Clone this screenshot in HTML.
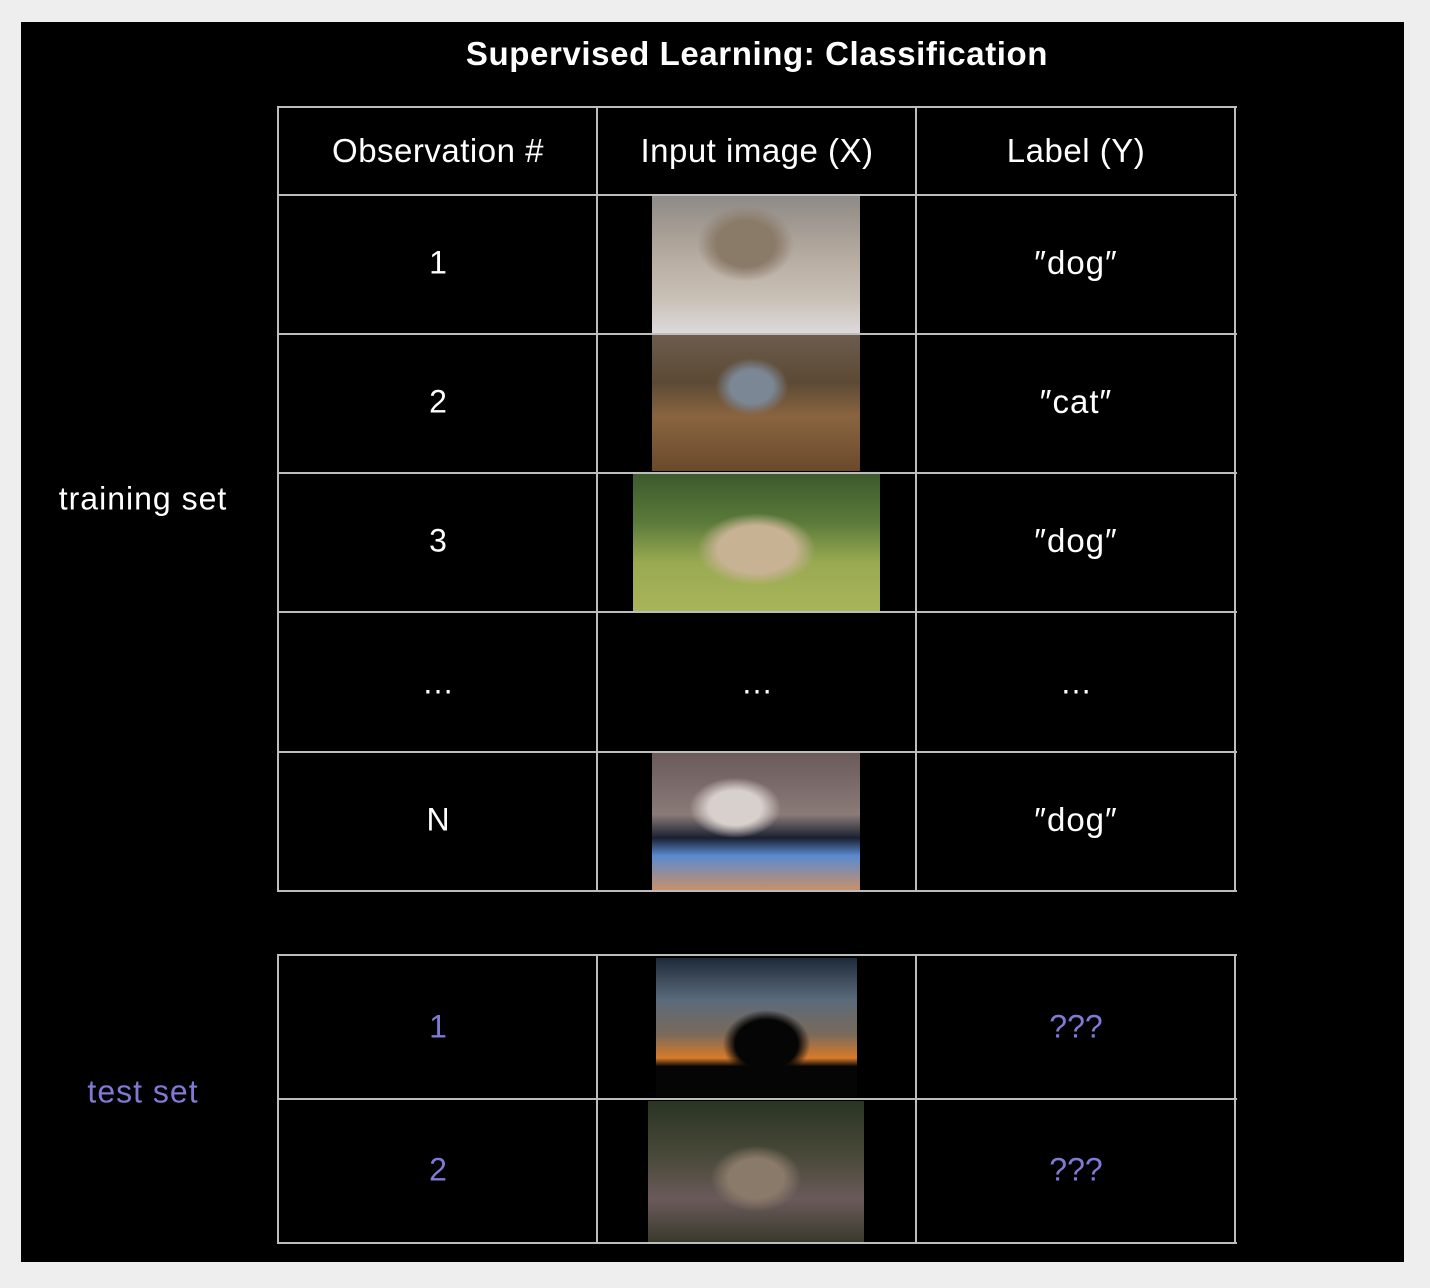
<!DOCTYPE html>
<html><head><meta charset="utf-8"><style>
*{margin:0;padding:0;box-sizing:border-box}
body{width:1430px;height:1288px;background:#eeeeee;position:relative;overflow:hidden;font-family:"Liberation Sans","DejaVu Sans",sans-serif}
.bg{position:absolute;left:21px;top:22px;width:1383px;height:1240px;background:#000}
.a{position:absolute}
.h{position:absolute;background:#bdbdbd;height:2px}
.v{position:absolute;background:#bdbdbd;width:2px}
.t{position:absolute;color:#fff;text-align:center;transform:translate(-50%,-50%);white-space:nowrap}
.p{color:#7f7ad6}
</style></head><body>
<div class="bg"></div>
<div class="t" style="left:757px;top:54px;font-size:33px;font-weight:bold;letter-spacing:0.6px">Supervised Learning: Classification</div>

<div class="h" style="left:277px;width:960px;top:106px"></div>
<div class="h" style="left:277px;width:960px;top:194px"></div>
<div class="h" style="left:277px;width:960px;top:333px"></div>
<div class="h" style="left:277px;width:960px;top:472px"></div>
<div class="h" style="left:277px;width:960px;top:611px"></div>
<div class="h" style="left:277px;width:960px;top:751px"></div>
<div class="h" style="left:277px;width:960px;top:890px"></div>
<div class="v" style="left:277px;top:106px;height:786px"></div>
<div class="v" style="left:596px;top:106px;height:786px"></div>
<div class="v" style="left:915px;top:106px;height:786px"></div>
<div class="v" style="left:1234px;top:106px;height:786px"></div>
<div class="h" style="left:277px;width:960px;top:954px"></div>
<div class="h" style="left:277px;width:960px;top:1098px"></div>
<div class="h" style="left:277px;width:960px;top:1242px"></div>
<div class="v" style="left:277px;top:954px;height:290px"></div>
<div class="v" style="left:596px;top:954px;height:290px"></div>
<div class="v" style="left:915px;top:954px;height:290px"></div>
<div class="v" style="left:1234px;top:954px;height:290px"></div>

<div class="a" style="left:652px;top:196px;width:208px;height:137px;background:radial-gradient(ellipse at 45% 35%,#8a7a68 0 18%,transparent 30%),linear-gradient(180deg,#8e8a86 0%,#b7aca0 45%,#c9c0b6 75%,#ddd9dc 100%)"></div>
<div class="a" style="left:652px;top:335px;width:208px;height:136px;background:radial-gradient(ellipse at 48% 38%,#7b8794 0 14%,transparent 24%),linear-gradient(180deg,#6d5c4c 0%,#5c4a36 35%,#8a6440 60%,#6a4a2c 100%)"></div>
<div class="a" style="left:633px;top:474px;width:247px;height:137px;background:radial-gradient(ellipse at 50% 55%,#c8b294 0 22%,transparent 34%),linear-gradient(180deg,#3c5a2c 0%,#5a7a3a 35%,#9aaa52 65%,#a8b45a 100%)"></div>
<div class="a" style="left:652px;top:753px;width:208px;height:137px;background:radial-gradient(ellipse at 40% 40%,#d8d0cc 0 15%,transparent 26%),linear-gradient(180deg,#6a5a5a 0%,#8a7a78 45%,#1a2030 62%,#5a8ad0 75%,#c8906a 100%)"></div>
<div class="a" style="left:656px;top:958px;width:201px;height:139px;background:radial-gradient(ellipse at 55% 62%,#050505 0 20%,transparent 28%),linear-gradient(180deg,#1e2a3a 0%,#5a6a7a 30%,#7a6a5a 55%,#d87a2a 72%,#050505 78%,#050505 100%)"></div>
<div class="a" style="left:648px;top:1101px;width:216px;height:141px;background:radial-gradient(ellipse at 50% 55%,#8a7a6a 0 18%,transparent 30%),linear-gradient(180deg,#2a3422 0%,#4a4a3a 40%,#6a5a5a 70%,#3a3a2c 100%)"></div>

<div class="t" style="left:438px;top:151px;font-size:33px;letter-spacing:0.5px">Observation #</div>
<div class="t" style="left:757px;top:151px;font-size:33px;letter-spacing:0.5px">Input image (X)</div>
<div class="t" style="left:1076px;top:151px;font-size:33px;letter-spacing:0.5px">Label (Y)</div>

<div class="t" style="left:438px;top:263px;font-size:32px">1</div>
<div class="t" style="left:438px;top:402px;font-size:32px">2</div>
<div class="t" style="left:438px;top:541px;font-size:32px">3</div>
<div class="t" style="left:438px;top:683px;font-size:32px">…</div>
<div class="t" style="left:757px;top:683px;font-size:32px">…</div>
<div class="t" style="left:1076px;top:683px;font-size:32px">…</div>
<div class="t" style="left:438px;top:820px;font-size:32px">N</div>

<div class="t" style="left:1076px;top:263px;font-size:33px;letter-spacing:1px">″dog″</div>
<div class="t" style="left:1076px;top:402px;font-size:33px;letter-spacing:1px">″cat″</div>
<div class="t" style="left:1076px;top:541px;font-size:33px;letter-spacing:1px">″dog″</div>
<div class="t" style="left:1076px;top:820px;font-size:33px;letter-spacing:1px">″dog″</div>

<div class="t" style="left:143px;top:499px;font-size:32px;letter-spacing:1px">training set</div>
<div class="t p" style="left:143px;top:1092px;font-size:32px;letter-spacing:1px">test set</div>
<div class="t p" style="left:438px;top:1027px;font-size:32px">1</div>
<div class="t p" style="left:438px;top:1170px;font-size:32px">2</div>
<div class="t p" style="left:1076px;top:1027px;font-size:32px">???</div>
<div class="t p" style="left:1076px;top:1170px;font-size:32px">???</div>
</body></html>
